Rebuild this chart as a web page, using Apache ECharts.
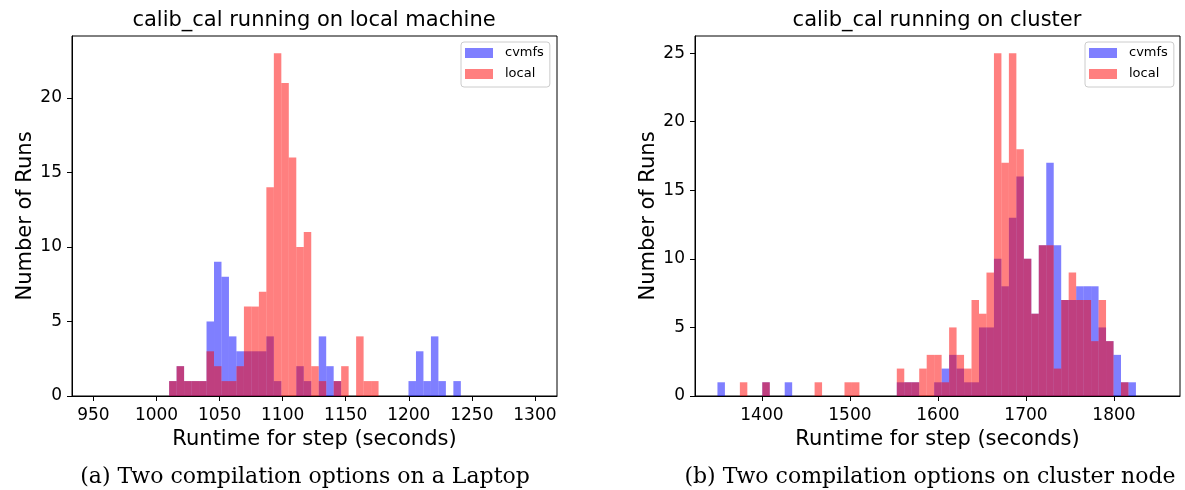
<!DOCTYPE html>
<html>
<head>
<meta charset="utf-8">
<title>calib_cal runtimes</title>
<script src="https://cdn.jsdelivr.net/npm/echarts@6/dist/echarts.min.js"></script>
<style>
  html, body { margin: 0; padding: 0; background: #fff; }
  #main { width: 1185px; height: 490px; }
</style>
</head>
<body>
<div id="main"></div>
<script>
// histogram bins (seconds) and counts
var laptopBinStart = 1010;
var laptopBinWidth = 5.93;
var laptopCvmfs = [1, 2, 1, 1, 1, 5, 9, 8, 4, 3, 3, 3, 3, 4, 1, 0, 0, 2, 1, 0,
                   4, 2, 1, 0, 0, 0, 0, 0, 0, 0, 0, 0, 1, 3, 1, 4, 1, 0, 1];
var laptopLocal = [1, 2, 1, 1, 1, 3, 2, 1, 1, 2, 6, 6, 7, 14, 23, 21, 16, 10, 11, 2,
                   1, 0, 1, 2, 0, 4, 1, 1, 0, 0, 0, 0, 0, 0, 0, 0, 0, 0, 0];

var clusterBinStart = 1349.5;
var clusterBinWidth = 8.49;
var clusterCvmfs = [1, 0, 0, 0, 0, 0, 1, 0, 0, 1, 0, 0, 0, 0, 0, 0, 0, 0, 0, 0,
                    0, 0, 0, 0, 1, 1, 1, 0, 0, 1, 2, 3, 2, 1, 1, 5, 5, 10, 8, 13,
                    16, 10, 6, 11, 17, 11, 7, 7, 8, 8, 8, 5, 4, 3, 1, 1];
var clusterLocal = [0, 0, 0, 1, 0, 0, 1, 0, 0, 0, 0, 0, 0, 1, 0, 0, 0, 1, 1, 0,
                    0, 0, 0, 0, 2, 1, 1, 2, 3, 3, 1, 5, 3, 2, 7, 6, 9, 25, 17, 25,
                    18, 10, 6, 11, 11, 2, 7, 9, 7, 7, 4, 7, 4, 0, 1, 0];

var laptopXTicks = [950, 1000, 1050, 1100, 1150, 1200, 1250, 1300];
var clusterXTicks = [1400, 1500, 1600, 1700, 1800];
var laptopYTicks = [0, 5, 10, 15, 20];
var clusterYTicks = [0, 5, 10, 15, 20, 25];

var seriesNames = ['cvmfs', 'local'];

var FONT = 'DejaVu Sans';
var BLUE = 'rgba(0, 0, 255, 0.5)';
var RED = 'rgba(255, 0, 0, 0.5)';

// [left edge, right edge, count] per bin, empty bins dropped
function bins(start, width, counts) {
  var out = [];
  counts.forEach(function (c, i) {
    if (c > 0) out.push([start + i * width, start + (i + 1) * width, c]);
  });
  return out;
}

function renderBar(params, api) {
  var p0 = api.coord([api.value(0), 0]);
  var p1 = api.coord([api.value(1), api.value(2)]);
  return {
    type: 'rect',
    shape: { x: p0[0], y: p1[1], width: p1[0] - p0[0], height: p0[1] - p1[1] },
    style: { fill: api.visual('color') }
  };
}

function hist(name, idx, color, data) {
  return {
    type: 'custom',
    name: name,
    xAxisIndex: idx,
    yAxisIndex: idx,
    renderItem: renderBar,
    encode: { x: [0, 1], y: 2 },
    itemStyle: { color: color },
    data: data
  };
}

function plain(v) { return String(v); }

function xAxis(idx, min, max, ticks) {
  return {
    type: 'value', gridIndex: idx, min: min, max: max,
    name: 'Runtime for step (seconds)',
    nameLocation: 'middle', nameGap: 32,
    nameTextStyle: { fontFamily: FONT, fontSize: 21, color: '#000' },
    axisLine: { show: true, lineStyle: { color: '#000', width: 1 } },
    axisTick: { show: true, length: 5, customValues: ticks, lineStyle: { color: '#000' } },
    axisLabel: { customValues: ticks, formatter: plain, fontFamily: FONT, fontSize: 17, color: '#000', margin: 11 },
    splitLine: { show: false }
  };
}

function yAxis(idx, max, ticks) {
  return {
    type: 'value', gridIndex: idx, min: 0, max: max,
    name: 'Number of Runs',
    nameLocation: 'middle', nameGap: 34,
    nameTextStyle: { fontFamily: FONT, fontSize: 21, color: '#000' },
    axisLine: { show: true, lineStyle: { color: '#000', width: 1 } },
    axisTick: { show: true, length: 5, customValues: ticks, lineStyle: { color: '#000' } },
    axisLabel: { customValues: ticks, formatter: plain, fontFamily: FONT, fontSize: 17, color: '#000', margin: 10 },
    splitLine: { show: false }
  };
}

function legend(left) {
  return {
    data: seriesNames,
    orient: 'vertical',
    left: left, top: 42,
    icon: 'rect',
    itemWidth: 28, itemHeight: 10, itemGap: 5,
    padding: [3, 6, 5, 4],
    borderColor: '#ccc', borderWidth: 1, borderRadius: 3,
    backgroundColor: 'rgba(255,255,255,0.8)',
    textStyle: { fontFamily: FONT, fontSize: 13, color: '#000', lineHeight: 16, padding: [0, 0, 0, 7] }
  };
}

function label(text, x, y, size, family) {
  return {
    type: 'text', x: x, y: y,
    style: {
      text: text, fill: '#000', fontSize: size, fontFamily: family,
      textAlign: 'center', textVerticalAlign: 'middle',
      align: 'center', verticalAlign: 'middle'
    }
  };
}

var chart = echarts.init(document.getElementById('main'), null, { renderer: 'canvas' });

chart.setOption({
  animation: false,
  backgroundColor: '#fff',
  grid: [
    { left: 72, top: 36, width: 485, height: 360, show: true, borderColor: '#000', borderWidth: 1, outerBoundsMode: 'none' },
    { left: 695, top: 36, width: 485, height: 360, show: true, borderColor: '#000', borderWidth: 1, outerBoundsMode: 'none' }
  ],
  xAxis: [
    xAxis(0, 933, 1317.5, laptopXTicks),
    xAxis(1, 1324, 1875, clusterXTicks)
  ],
  yAxis: [
    yAxis(0, 24.15, laptopYTicks),
    yAxis(1, 26.25, clusterYTicks)
  ],
  legend: [legend(461), legend(1085)],
  graphic: [
    label('calib_cal running on local machine', 314, 21, 21, FONT),
    label('calib_cal running on cluster', 937, 21, 21, FONT),
    label('(a) Two compilation options on a Laptop', 305, 477, 22, 'DejaVu Serif'),
    label('(b) Two compilation options on cluster node', 930, 477, 22, 'DejaVu Serif')
  ],
  series: [
    hist('cvmfs', 0, BLUE, bins(laptopBinStart, laptopBinWidth, laptopCvmfs)),
    hist('local', 0, RED, bins(laptopBinStart, laptopBinWidth, laptopLocal)),
    hist('cvmfs', 1, BLUE, bins(clusterBinStart, clusterBinWidth, clusterCvmfs)),
    hist('local', 1, RED, bins(clusterBinStart, clusterBinWidth, clusterLocal))
  ]
});
</script>
</body>
</html>
